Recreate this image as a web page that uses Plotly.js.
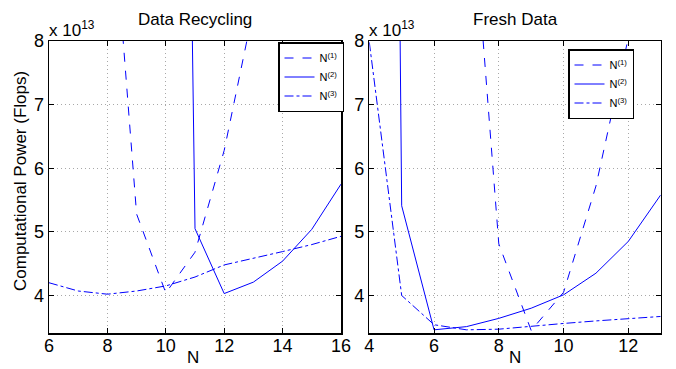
<!DOCTYPE html>
<html>
<head>
<meta charset="utf-8">
<script src="https://cdn.plot.ly/plotly-3.0.1.min.js"></script>
<style>html,body{margin:0;padding:0;background:#fff;}#chart{width:676px;height:369px;}</style>
</head>
<body>
<div id="chart"></div>
<script>
// Values in units of 1e13 Flops
const recN1_x = [8, 9, 10, 11, 12, 13];
const recN1_y = [11.2, 5.28, 4.04, 4.68, 6.28, 8.5];
const recN2_x = [10, 11, 12, 13, 14, 15, 16];
const recN2_y = [38, 5.05, 4.03, 4.21, 4.54, 5.04, 5.75];
const recN3_x = [6, 7, 8, 9, 10, 11, 12, 13, 14, 15, 16];
const recN3_y = [4.20, 4.07, 4.02, 4.07, 4.15, 4.29, 4.48, 4.58, 4.69, 4.80, 4.93];

const freshN1_x = [7, 8, 9, 10, 11, 12, 13];
const freshN1_y = [11.4, 4.81, 3.45, 4.05, 5.72, 8.05, 11.5];
const freshN2_x = [4, 5, 6, 7, 8, 9, 10, 11, 12, 13];
const freshN2_y = [60, 5.41, 3.46, 3.51, 3.64, 3.80, 4.01, 4.35, 4.85, 5.58];
const freshN3_x = [4, 5, 6, 7, 8, 9, 10, 11, 12, 13];
const freshN3_y = [7.98, 4.00, 3.54, 3.46, 3.47, 3.52, 3.56, 3.60, 3.63, 3.67];

const seriesNames = ['N<sup>(1)</sup>', 'N<sup>(2)</sup>', 'N<sup>(3)</sup>'];
const dashes = ['dash', 'solid', 'dashdot'];
const panelTitles = ['Data Recycling', 'Fresh Data'];
const yTitle = 'Computational Power (Flops)';
const xTitle = 'N';
const expLabel = 'x 10<sup>13</sup>';
const yTicks = [4, 5, 6, 7, 8];

const W = 676, H = 369;
const blue = '#0000ff';
const font = 'Liberation Sans, Arial, Helvetica, sans-serif';

function tr(x, y, i, xa, ya, leg) {
  return {x: x, y: y, xaxis: xa, yaxis: ya, mode: 'lines', name: seriesNames[i],
    legend: leg, line: {color: blue, width: 1, dash: dashes[i]}, hoverinfo: 'skip'};
}
const data = [
  tr(recN1_x, recN1_y, 0, 'x', 'y', 'legend'),
  tr(recN2_x, recN2_y, 1, 'x', 'y', 'legend'),
  tr(recN3_x, recN3_y, 2, 'x', 'y', 'legend'),
  tr(freshN1_x, freshN1_y, 0, 'x2', 'y2', 'legend2'),
  tr(freshN2_x, freshN2_y, 1, 'x2', 'y2', 'legend2'),
  tr(freshN3_x, freshN3_y, 2, 'x2', 'y2', 'legend2')
];

const px = v => v / W, py = v => 1 - v / H;
const axBase = {showline: true, linecolor: '#000', linewidth: 1.5, mirror: 'ticks',
  ticks: 'inside', ticklen: 5, tickcolor: '#000', showgrid: true, gridcolor: '#a8a8a8',
  griddash: '1px,3px', gridwidth: 1, zeroline: false, tickfont: {family: font, size: 18, color: '#000'},
  fixedrange: true};

const yDom = [py(333), py(41)];
const legBase = {xanchor: 'left', yanchor: 'top', bordercolor: '#000', borderwidth: 1.5,
  bgcolor: '#fff', font: {family: font, size: 11, color: '#000'}, itemwidth: 30, tracegroupgap: 0};
const layout = {
  width: W, height: H, margin: {l: 0, r: 0, t: 0, b: 0}, paper_bgcolor: '#fff', plot_bgcolor: '#fff',
  showlegend: true,
  xaxis: Object.assign({}, axBase, {domain: [px(49), px(341)], range: [6, 16], dtick: 2, tick0: 0, anchor: 'y', ticklabelstandoff: -4}),
  yaxis: Object.assign({}, axBase, {domain: yDom, range: [3.41, 8], tickvals: yTicks, anchor: 'x'}),
  xaxis2: Object.assign({}, axBase, {domain: [px(369.3), px(660.7)], range: [4, 13], dtick: 2, tick0: 0, anchor: 'y2', ticklabelstandoff: -4}),
  yaxis2: Object.assign({}, axBase, {domain: yDom, range: [3.41, 8], tickvals: yTicks, anchor: 'x2'}),
  legend: Object.assign({}, legBase, {x: px(278), y: py(42)}),
  legend2: Object.assign({}, legBase, {x: px(568), y: py(49)}),
  annotations: [
    {text: panelTitles[0], x: px(195), y: py(20), xref: 'paper', yref: 'paper', showarrow: false, xanchor: 'center', yanchor: 'middle', font: {family: font, size: 17, color: '#000'}},
    {text: panelTitles[1], x: px(515), y: py(20), xref: 'paper', yref: 'paper', showarrow: false, xanchor: 'center', yanchor: 'middle', font: {family: font, size: 17, color: '#000'}},
    {text: expLabel, x: px(47), y: py(42), xref: 'paper', yref: 'paper', showarrow: false, xanchor: 'left', yanchor: 'bottom', font: {family: font, size: 17, color: '#000'}},
    {text: expLabel, x: px(367), y: py(42), xref: 'paper', yref: 'paper', showarrow: false, xanchor: 'left', yanchor: 'bottom', font: {family: font, size: 17, color: '#000'}},
    {text: yTitle, x: px(20), y: py(181), xref: 'paper', yref: 'paper', showarrow: false, textangle: -90, xanchor: 'center', yanchor: 'middle', font: {family: font, size: 17, color: '#000'}},
    {text: xTitle, x: px(193), y: py(357), xref: 'paper', yref: 'paper', showarrow: false, xanchor: 'center', yanchor: 'middle', font: {family: font, size: 17, color: '#000'}},
    {text: xTitle, x: px(515), y: py(357), xref: 'paper', yref: 'paper', showarrow: false, xanchor: 'center', yanchor: 'middle', font: {family: font, size: 17, color: '#000'}}
  ]
};
Plotly.newPlot('chart', data, layout, {displayModeBar: false, staticPlot: true});
</script>
</body>
</html>
